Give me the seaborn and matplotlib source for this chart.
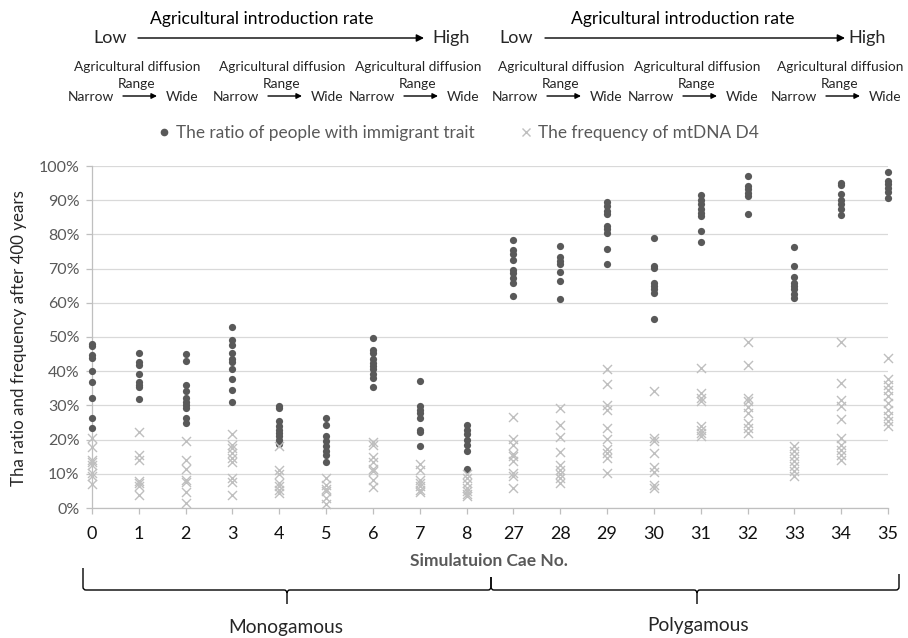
import matplotlib
matplotlib.use("Agg")
import matplotlib.pyplot as plt
import seaborn as sns
import pandas as pd
from matplotlib.path import Path
from matplotlib.patches import PathPatch, FancyArrowPatch
from matplotlib.lines import Line2D
from matplotlib.ticker import PercentFormatter

# ---------------- data ----------------
cases = ["0", "1", "2", "3", "4", "5", "6", "7", "8",
         "27", "28", "29", "30", "31", "32", "33", "34", "35"]

ratio_values = [
    [48.0, 47.3, 44.6, 43.9, 40.0, 36.9, 32.1, 26.2, 23.3],          # 0
    [45.3, 42.7, 41.7, 39.1, 36.9, 36.1, 35.3, 31.8],                # 1
    [45.0, 43.1, 36.0, 34.2, 32.2, 31.1, 30.1, 29.3, 26.3, 24.9],    # 2
    [52.9, 49.1, 47.6, 45.4, 43.6, 42.7, 40.5, 37.7, 34.4, 31.1],    # 3
    [29.8, 29.3, 25.4, 24.1, 22.9, 22.0, 21.0, 20.0, 18.8],          # 4
    [26.2, 24.4, 21.0, 19.5, 18.0, 16.6, 15.6, 13.4],                # 5
    [49.7, 46.1, 45.4, 43.7, 42.4, 41.5, 40.5, 39.3, 38.0, 35.3],    # 6
    [37.1, 29.8, 28.8, 27.8, 26.3, 22.9, 22.1, 18.2],                # 7
    [24.4, 22.9, 21.5, 20.0, 18.5, 16.6, 11.4],                      # 8
    [78.3, 75.4, 74.4, 72.4, 69.6, 68.8, 67.3, 65.9, 62.0],          # 27
    [76.6, 73.5, 72.2, 71.2, 69.0, 66.5, 61.0],                      # 28
    [89.5, 88.3, 86.8, 85.9, 82.6, 81.5, 80.5, 75.6, 71.4],          # 29
    [79.0, 70.9, 70.2, 65.9, 64.9, 63.9, 62.9, 55.4],                # 30
    [91.4, 90.2, 88.8, 87.5, 86.3, 85.4, 81.0, 77.8],                # 31
    [97.1, 94.1, 93.2, 92.2, 91.2, 86.1],                            # 32
    [76.3, 70.7, 67.5, 65.9, 64.9, 63.9, 62.7, 61.5],                # 33
    [95.1, 94.3, 91.7, 90.2, 88.8, 87.3, 85.6],                      # 34
    [98.3, 95.6, 94.6, 93.7, 92.4, 90.7],                            # 35
]

d4_values = [
    [20.5, 17.8, 14.1, 13.4, 12.7, 10.2, 9.3, 7.0],                  # 0
    [22.1, 15.6, 14.1, 8.0, 7.3, 6.5, 3.9],                          # 1
    [19.5, 14.1, 11.4, 8.3, 7.5, 4.6, 1.5],                          # 2
    [21.5, 18.5, 17.6, 16.1, 14.6, 13.4, 8.8, 7.5, 3.9],             # 3
    [18.0, 11.0, 10.0, 7.3, 6.3, 5.4, 4.4],                          # 4
    [8.8, 6.8, 5.6, 4.9, 2.9, 1.3],                                  # 5
    [19.2, 18.5, 14.9, 13.4, 11.4, 10.7, 8.3, 6.1],                  # 6
    [13.0, 11.2, 8.3, 7.3, 6.3, 5.4, 4.6],                           # 7
    [9.8, 8.8, 7.3, 5.9, 4.9, 4.1, 3.4],                             # 8
    [26.5, 20.2, 18.5, 15.9, 15.1, 13.7, 10.2, 9.5, 5.9],            # 27
    [29.3, 24.4, 20.8, 16.3, 12.7, 11.0, 10.0, 8.8, 7.3],            # 28
    [40.5, 36.4, 30.0, 28.8, 23.4, 20.2, 17.3, 16.1, 14.6, 10.2],    # 29
    [34.1, 20.5, 19.5, 16.1, 12.0, 10.4, 6.8, 5.9],                  # 30
    [40.8, 33.7, 32.2, 31.2, 23.9, 22.9, 22.0, 21.0],                # 31
    [48.6, 41.8, 32.2, 31.2, 29.6, 27.8, 24.9, 23.4, 22.0],          # 32
    [18.0, 16.6, 15.3, 13.7, 12.2, 10.7, 9.3],                       # 33
    [48.5, 36.6, 31.7, 29.8, 25.9, 20.5, 18.5, 17.1, 15.6, 14.1],    # 34
    [43.8, 37.8, 36.1, 34.6, 32.7, 30.7, 28.8, 26.8, 25.4, 23.9],    # 35
]

series_labels = ["The ratio of people with immigrant trait",
                 "The frequency of mtDNA D4"]

rows = []
for c, rv, dv in zip(cases, ratio_values, d4_values):
    rows += [(c, v / 100, series_labels[0]) for v in rv]
    rows += [(c, v / 100, series_labels[1]) for v in dv]
df = pd.DataFrame(rows, columns=["case", "value", "series"])

# ---------------- figure ----------------
sns.set_theme(style="white")
plt.rcParams["font.family"] = ["Lato", "DejaVu Sans"]

W, H = 908, 638
def F(x, y):
    return (x / W, 1 - y / H)

fig = plt.figure(figsize=(W / 100, H / 100), dpi=100)
ax = fig.add_axes([92 / W, 1 - 508 / H, (888 - 92) / W, (508 - 166) / H])

DOT = "#595959"
CROSS = "#bfbfbf"

sns.stripplot(data=df[df.series == series_labels[0]], x="case", y="value",
              order=cases, jitter=False, color=DOT, size=5.2, linewidth=0,
              ax=ax, zorder=3)
sns.stripplot(data=df[df.series == series_labels[1]], x="case", y="value",
              order=cases, jitter=False, color=CROSS, marker="x", size=6.5,
              linewidth=1.0, ax=ax, zorder=4)
for coll in ax.collections:
    coll.set_clip_on(False)

ax.set_xlim(0, len(cases) - 1)
ax.set_ylim(0, 1)
ax.set_yticks([i / 10 for i in range(11)])
ax.yaxis.set_major_formatter(PercentFormatter(1.0, decimals=0))
ax.grid(axis="y", color="#d9d9d9", linewidth=0.9)
ax.grid(axis="x", visible=False)
ax.set_axisbelow(True)
for s in ["top", "right"]:
    ax.spines[s].set_visible(False)
for s in ["left", "bottom"]:
    ax.spines[s].set_color("#bfbfbf")
    ax.spines[s].set_linewidth(0.9)

ax.tick_params(axis="x", which="major", bottom=True, length=4, width=0.9,
               color="#bfbfbf", labelsize=13, labelcolor="#111111", pad=9)
ax.tick_params(axis="y", which="major", left=True, length=4, width=0.9,
               color="#bfbfbf", labelsize=11.5, labelcolor="#595959", pad=5)

ax.set_xlabel("Simulatuion Cae No.", fontsize=12.5, fontweight="bold",
              color="#595959")
ax.xaxis.set_label_coords((489 - 92) / 796, -(561 - 508) / 342)
ax.xaxis.label.set_va("center")
ax.set_ylabel("Tha ratio and frequency after 400 years", fontsize=12.2,
              color="#262626")
ax.yaxis.set_label_coords((19 - 92) / 796, (508 - 338) / 342)
ax.yaxis.label.set_va("center")

# legend at top
handles = [Line2D([], [], linestyle="none", marker="o", markersize=4.5,
                  color=DOT),
           Line2D([], [], linestyle="none", marker="x", markersize=6,
                  markeredgewidth=1, color=CROSS)]
fig.legend(handles, series_labels, loc="center", bbox_to_anchor=F(458, 133),
           ncol=2, frameon=False, fontsize=12.4, labelcolor="#595959",
           handlelength=0.8, handletextpad=0.3, columnspacing=2.6)

# ---------------- top annotations ----------------
def arrow(x0, x1, y, ms):
    fig.add_artist(FancyArrowPatch(F(x0, y), F(x1, y),
                                   transform=fig.transFigure,
                                   arrowstyle="-|>", mutation_scale=ms,
                                   lw=1.0, color="black",
                                   shrinkA=0, shrinkB=0))

for title_x, low_x, a0, a1, high_x in [(262, 110, 138, 424, 451),
                                       (683, 516, 545, 845, 867)]:
    fig.text(*F(title_x, 19), "Agricultural introduction rate",
             fontsize=12.6, ha="center", va="center", color="black")
    fig.text(*F(low_x, 38), "Low", fontsize=13, ha="center", va="center")
    fig.text(*F(high_x, 38), "High", fontsize=13, ha="center",
             va="center")
    arrow(a0, a1, 38, 11)

for c in [137, 282, 418, 561, 697, 840]:
    fig.text(*F(c, 67), "Agricultural diffusion", fontsize=9.9,
             ha="center", va="center")
    fig.text(*F(c, 84), "Range", fontsize=9.9, ha="center", va="center")
    fig.text(*F(c - 46, 97), "Narrow", fontsize=9.9, ha="center",
             va="center")
    fig.text(*F(c + 45, 97), "Wide", fontsize=9.9, ha="center",
             va="center")
    arrow(c - 14, c + 20, 96, 8)

# ---------------- braces ----------------
def brace(x0, x1, xm, y0top, y1top, yline, ytip, r=3):
    pts = [F(x0, y0top), F(x0, yline - r), F(x0, yline), F(x0 + r, yline),
           F(xm - r, yline), F(xm, yline), F(xm, yline + r), F(xm, ytip),
           F(xm, yline + r), F(xm, yline), F(xm + r, yline),
           F(x1 - r, yline), F(x1, yline), F(x1, yline - r), F(x1, y1top)]
    codes = [Path.MOVETO, Path.LINETO, Path.CURVE3, Path.CURVE3,
             Path.LINETO, Path.CURVE3, Path.CURVE3, Path.LINETO,
             Path.MOVETO, Path.CURVE3, Path.CURVE3,
             Path.LINETO, Path.CURVE3, Path.CURVE3, Path.LINETO]
    fig.add_artist(PathPatch(Path(pts, codes), transform=fig.transFigure,
                             fill=False, lw=1.0, edgecolor="black"))

brace(83, 491, 287, 568, 577, 590, 604)
brace(491, 899, 697, 577, 574, 590, 604)

fig.text(*F(286, 627), "Monogamous", fontsize=13.8, ha="center",
         va="center")
fig.text(*F(698, 625), "Polygamous", fontsize=13.8, ha="center",
         va="center")

fig.savefig("out.png", dpi=100)
